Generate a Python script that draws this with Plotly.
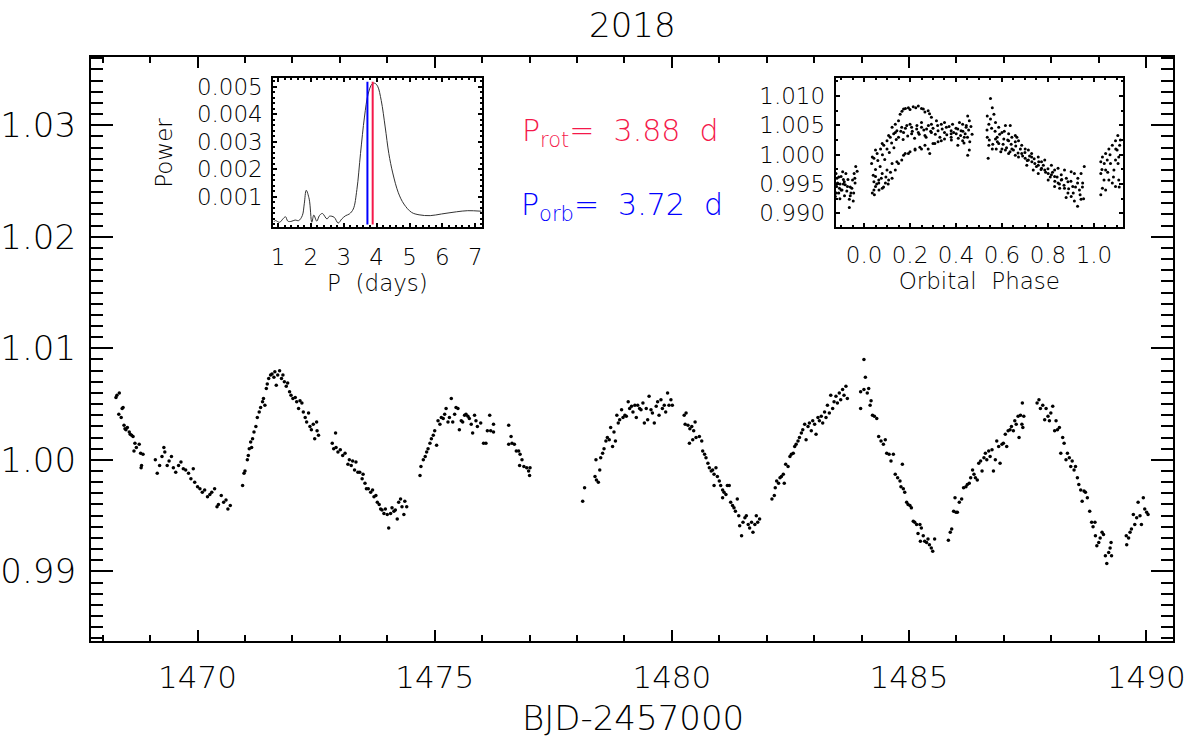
#!/usr/bin/env python3

import plotly.graph_objects as go

W, H = 1200, 737

# TESS light curve, 2018 (BJD-2457000, normalised flux)
t_2018 = [
    1468.28, 1468.30, 1468.35, 1468.34, 1468.41, 1468.43, 1468.39, 1468.45, 1468.47, 1468.49,
    1468.52, 1468.56, 1468.58, 1468.61, 1468.64, 1468.68, 1468.71, 1468.66, 1468.77, 1468.80,
    1468.85, 1468.82, 1468.81,
    1469.11, 1469.15, 1469.20, 1469.25, 1469.29, 1469.31, 1469.36, 1469.40, 1469.45, 1469.49,
    1469.54, 1469.60, 1469.65, 1469.70, 1469.75, 1469.81, 1469.86, 1469.91, 1469.94, 1470.00,
    1470.05, 1470.10, 1470.15, 1470.21, 1470.26, 1470.30, 1470.36, 1470.41, 1470.44, 1470.50,
    1470.55, 1470.60, 1470.64, 1470.69,
    1470.95, 1470.98, 1471.00, 1471.05, 1471.07, 1471.09, 1471.12, 1471.14, 1471.16, 1471.19,
    1471.23, 1471.26, 1471.30, 1471.33, 1471.37, 1471.39, 1471.42, 1471.45, 1471.47, 1471.50,
    1471.54, 1471.57, 1471.61, 1471.63, 1471.66, 1471.69, 1471.73, 1471.77, 1471.80, 1471.83,
    1471.87, 1471.90, 1471.94, 1471.97, 1472.01, 1472.06, 1472.09, 1472.13, 1472.16, 1472.20,
    1472.23, 1472.27, 1472.30, 1472.34, 1472.37, 1472.40, 1472.44, 1472.47, 1472.51, 1472.52,
    1472.55,
    1472.84, 1472.87, 1472.91, 1472.92, 1472.96, 1473.01, 1473.06, 1473.11, 1473.17, 1473.20,
    1473.24, 1473.27, 1473.31, 1473.34, 1473.38, 1473.42, 1473.47, 1473.49, 1473.53, 1473.56,
    1473.60, 1473.65, 1473.69, 1473.72, 1473.76, 1473.79, 1473.83, 1473.86, 1473.89, 1473.93,
    1473.96, 1474.00, 1474.03, 1474.07, 1474.10, 1474.14, 1474.17, 1474.21, 1474.24, 1474.28,
    1474.31, 1474.35, 1474.37, 1474.41,
    1474.69, 1474.71, 1474.76, 1474.80, 1474.83, 1474.86, 1474.90, 1474.93, 1474.97, 1475.00,
    1475.04, 1475.07, 1475.11, 1475.14, 1475.18, 1475.21, 1475.24, 1475.28, 1475.31, 1475.35,
    1475.38, 1475.42, 1475.45, 1475.49, 1475.52, 1475.56, 1475.59, 1475.63, 1475.66, 1475.70,
    1475.73, 1475.77, 1475.80, 1475.84, 1475.87, 1475.90, 1475.97, 1476.03, 1476.08, 1476.11,
    1476.16, 1476.18, 1476.24, 1476.24,
    1476.56, 1476.61, 1476.63, 1476.56, 1476.68, 1476.72, 1476.77, 1476.80, 1476.79, 1476.84,
    1476.88, 1476.94, 1476.98, 1477.00, 1477.01,
    1478.12, 1478.16, 1478.38, 1478.41, 1478.45, 1478.40, 1478.48, 1478.50, 1478.54, 1478.57,
    1478.61, 1478.64, 1478.68, 1478.71, 1478.75, 1478.78, 1478.81, 1478.84, 1478.87, 1478.90,
    1478.94, 1478.97, 1479.01, 1479.04, 1479.08, 1479.11, 1479.15, 1479.18, 1479.22, 1479.25,
    1479.28, 1479.32, 1479.35, 1479.39, 1479.42, 1479.46, 1479.49, 1479.52, 1479.56, 1479.59,
    1479.63, 1479.67, 1479.70, 1479.73, 1479.77, 1479.80, 1479.84, 1479.87, 1479.91, 1479.94,
    1479.98, 1480.01,
    1480.26, 1480.30, 1480.28, 1480.34, 1480.38, 1480.42, 1480.46, 1480.49, 1480.37, 1480.44,
    1480.51, 1480.58, 1480.63, 1480.65, 1480.69, 1480.72, 1480.76, 1480.79, 1480.83, 1480.86,
    1480.89, 1480.93, 1480.96, 1480.89, 1481.00, 1481.03, 1481.07, 1481.10, 1481.14, 1481.17,
    1481.07, 1481.21, 1481.24, 1481.28, 1481.31, 1481.34, 1481.38, 1481.41, 1481.43, 1481.47,
    1481.50, 1481.54, 1481.57, 1481.61, 1481.64, 1481.68, 1481.71, 1481.75, 1481.78, 1481.81,
    1481.85,
    1482.11, 1482.16, 1482.18, 1482.21, 1482.25, 1482.28, 1482.31, 1482.35, 1482.37, 1482.40,
    1482.45, 1482.49, 1482.52, 1482.56, 1482.59, 1482.62, 1482.66, 1482.69, 1482.73, 1482.76,
    1482.80, 1482.83, 1482.87, 1482.90, 1482.94, 1482.97, 1483.01, 1483.04, 1483.08, 1483.11,
    1483.15, 1483.18, 1483.22, 1483.25, 1483.28, 1483.32, 1483.35, 1483.39, 1483.42, 1483.46,
    1483.49, 1483.53, 1483.56, 1483.60, 1483.63, 1483.67, 1483.70,
    1483.98, 1483.98, 1484.05, 1484.08, 1484.05, 1484.12, 1484.15, 1484.18, 1484.20, 1484.23,
    1484.27, 1484.32, 1484.36, 1484.41, 1484.46, 1484.50, 1484.53, 1484.58, 1484.62, 1484.67,
    1484.71, 1484.76, 1484.81, 1484.86, 1484.83, 1484.88, 1484.91, 1484.95, 1484.98, 1485.02,
    1485.05, 1485.09, 1485.12, 1485.16, 1485.19, 1485.23, 1485.26, 1485.30, 1485.33, 1485.37,
    1485.40, 1485.43, 1485.47, 1485.50, 1485.54, 1485.24,
    1485.83, 1485.87, 1485.90, 1485.94, 1485.99, 1485.97, 1486.02, 1486.06, 1486.11, 1486.15,
    1486.20, 1486.23, 1486.27, 1486.30, 1486.34, 1486.37, 1486.40, 1486.44, 1486.47, 1486.51,
    1486.54, 1486.58, 1486.61, 1486.64, 1486.68, 1486.71, 1486.75, 1486.78, 1486.82, 1486.85,
    1486.89, 1486.92, 1486.96, 1486.99, 1487.03, 1487.06, 1487.09, 1487.13, 1487.16, 1487.20,
    1487.23, 1487.26, 1487.30, 1487.32, 1487.35, 1487.38, 1487.40, 1487.42, 1487.39,
    1487.70, 1487.74, 1487.77, 1487.82, 1487.86, 1487.89, 1487.93, 1487.96, 1487.99, 1488.03,
    1488.07, 1488.10, 1488.13, 1488.17, 1488.20, 1488.24, 1488.27, 1488.31, 1488.34, 1488.38,
    1488.41, 1488.44, 1488.48, 1488.51, 1488.55, 1488.58, 1488.62, 1488.65, 1488.69, 1488.72,
    1488.76, 1488.81, 1488.85, 1488.88, 1488.92, 1488.93, 1488.96, 1489.00, 1489.03, 1489.07,
    1489.10, 1489.14, 1489.17, 1489.21, 1489.24, 1489.27, 1489.26,
    1489.59, 1489.58, 1489.63, 1489.66, 1489.69, 1489.73, 1489.76, 1489.80, 1489.83, 1489.87,
    1489.90, 1489.94, 1489.97, 1490.01, 1490.04,
]
flux_2018 = [
    1.0056, 1.0058, 1.0060, 1.0041, 1.0046, 1.0047, 1.0038, 1.0031, 1.0028, 1.0027,
    1.0029, 1.0025, 1.0023, 1.0022, 1.0021, 1.0015, 1.0011, 1.0008, 1.0014, 1.0006,
    1.0005, 0.9995, 0.9993,
    1.0000, 0.9988, 0.9995, 1.0003, 1.0011, 1.0007, 0.9995, 0.9999, 1.0003, 0.9993,
    0.9989, 0.9995, 0.9998, 0.9992, 0.9991, 0.9988, 0.9983, 0.9992, 0.9980, 0.9976,
    0.9974, 0.9971, 0.9973, 0.9967, 0.9969, 0.9971, 0.9974, 0.9958, 0.9960, 0.9968,
    0.9962, 0.9964, 0.9956, 0.9959,
    0.9977, 0.9988, 0.9990, 1.0000, 1.0004, 1.0010, 1.0016, 1.0011, 1.0019, 1.0025,
    1.0030, 1.0038, 1.0043, 1.0047, 1.0052, 1.0055, 1.0049, 1.0064, 1.0068, 1.0073,
    1.0076, 1.0077, 1.0074, 1.0079, 1.0067, 1.0076, 1.0080, 1.0073, 1.0076, 1.0070,
    1.0066, 1.0069, 1.0061, 1.0058, 1.0055, 1.0056, 1.0052, 1.0046, 1.0053, 1.0051,
    1.0043, 1.0038, 1.0034, 1.0042, 1.0030, 1.0027, 1.0032, 1.0019, 1.0034, 1.0026,
    1.0022,
    1.0015, 1.0010, 1.0024, 1.0011, 1.0007, 1.0009, 1.0004, 1.0006, 0.9996, 1.0000,
    0.9995, 0.9999, 0.9991, 0.9998, 0.9989, 0.9989, 0.9983, 0.9987, 0.9979, 0.9974,
    0.9974, 0.9971, 0.9973, 0.9967, 0.9968, 0.9962, 0.9960, 0.9956, 0.9955, 0.9952,
    0.9956, 0.9951, 0.9939, 0.9952, 0.9957, 0.9954, 0.9955, 0.9947, 0.9962, 0.9965,
    0.9958, 0.9951, 0.9963, 0.9958,
    0.9986, 0.9994, 1.0000, 1.0003, 1.0007, 1.0010, 1.0015, 1.0019, 1.0022, 1.0026,
    1.0013, 1.0035, 1.0032, 1.0038, 1.0037, 1.0041, 1.0046, 1.0034, 1.0038, 1.0055,
    1.0034, 1.0041, 1.0047, 1.0046, 1.0027, 1.0035, 1.0034, 1.0040, 1.0041, 1.0039,
    1.0037, 1.0032, 1.0024, 1.0040, 1.0035, 1.0030, 1.0033, 1.0015, 1.0015, 1.0026,
    1.0040, 1.0026, 1.0032, 1.0025,
    1.0031, 1.0021, 1.0015, 1.0014, 1.0014, 1.0008, 1.0008, 1.0005, 0.9995, 1.0000,
    0.9994, 0.9993, 0.9990, 0.9986, 0.9993,
    0.9963, 0.9975, 0.9985, 0.9982, 0.9980, 1.0000, 0.9991, 1.0002, 1.0006, 1.0010,
    1.0017, 1.0020, 1.0018, 1.0029, 1.0012, 1.0025, 1.0017, 1.0040, 1.0033, 1.0036,
    1.0045, 1.0038, 1.0040, 1.0039, 1.0052, 1.0046, 1.0048, 1.0043, 1.0049, 1.0038,
    1.0049, 1.0046, 1.0045, 1.0051, 1.0033, 1.0046, 1.0036, 1.0057, 1.0045, 1.0042,
    1.0033, 1.0048, 1.0052, 1.0040, 1.0054, 1.0046, 1.0049, 1.0043, 1.0060, 1.0049,
    1.0054, 1.0049,
    1.0040, 1.0042, 1.0032, 1.0031, 1.0028, 1.0030, 1.0026, 1.0034, 1.0015, 1.0018,
    1.0020, 1.0021, 1.0017, 1.0008, 1.0005, 1.0002, 0.9997, 0.9993, 0.9990, 0.9991,
    0.9987, 0.9993, 0.9985, 0.9977, 0.9981, 0.9977, 0.9973, 0.9971, 0.9969, 0.9977,
    0.9966, 0.9977, 0.9962, 0.9959, 0.9957, 0.9954, 0.9965, 0.9950, 0.9941, 0.9932,
    0.9944, 0.9948, 0.9950, 0.9942, 0.9939, 0.9944, 0.9935, 0.9942, 0.9950, 0.9944,
    0.9947,
    0.9965, 0.9968, 0.9975, 0.9981, 0.9979, 0.9984, 0.9985, 0.9987, 0.9979, 0.9996,
    0.9994, 1.0003, 1.0005, 1.0006, 1.0012, 1.0014, 1.0017, 1.0020, 1.0024, 1.0027,
    1.0032, 1.0018, 1.0030, 1.0033, 1.0026, 1.0035, 1.0032, 1.0023, 1.0038, 1.0035,
    1.0039, 1.0033, 1.0043, 1.0038, 1.0049, 1.0042, 1.0058, 1.0046, 1.0052, 1.0057,
    1.0051, 1.0060, 1.0054, 1.0063, 1.0058, 1.0066, 1.0055,
    1.0061, 1.0046, 1.0090, 1.0074, 1.0063, 1.0060, 1.0064, 1.0049, 1.0053, 1.0040,
    1.0039, 1.0037, 1.0021, 1.0017, 1.0014, 1.0018, 1.0006, 1.0005, 0.9999, 1.0005,
    0.9987, 0.9984, 0.9981, 0.9996, 0.9976, 0.9974, 0.9971, 0.9962, 0.9960, 0.9959,
    0.9957, 0.9945, 0.9944, 0.9942, 0.9934, 0.9942, 0.9939, 0.9932, 0.9927, 0.9926,
    0.9929, 0.9924, 0.9921, 0.9918, 0.9929, 0.9927,
    0.9928, 0.9935, 0.9938, 0.9954, 0.9953, 0.9966, 0.9953, 0.9962, 0.9965, 0.9975,
    0.9976, 0.9978, 0.9979, 0.9984, 0.9991, 0.9987, 0.9984, 0.9982, 0.9997, 0.9999,
    0.9990, 1.0002, 1.0006, 1.0000, 1.0008, 1.0003, 1.0009, 0.9990, 1.0000, 1.0017,
    1.0012, 0.9997, 1.0014, 1.0015, 1.0023, 1.0012, 1.0026, 1.0027, 1.0030, 1.0026,
    1.0035, 1.0032, 1.0039, 1.0020, 1.0040, 1.0032, 1.0029, 1.0039, 1.0051,
    1.0051, 1.0054, 1.0046, 1.0049, 1.0036, 1.0046, 1.0039, 1.0035, 1.0042, 1.0048,
    1.0026, 1.0035, 1.0027, 1.0029, 1.0006, 1.0020, 1.0015, 1.0000, 1.0006, 1.0002,
    0.9994, 0.9999, 0.9991, 0.9994, 0.9984, 0.9978, 0.9973, 0.9963, 0.9972, 0.9971,
    0.9966, 0.9954, 0.9944, 0.9940, 0.9944, 0.9932, 0.9923, 0.9926, 0.9930, 0.9935,
    0.9933, 0.9914, 0.9907, 0.9917, 0.9921, 0.9914, 0.9926,
    0.9924, 0.9932, 0.9930, 0.9935, 0.9938, 0.9951, 0.9942, 0.9948, 0.9962, 0.9950,
    0.9942, 0.9966, 0.9956, 0.9953, 0.9951,
]

# Lomb-Scargle periodogram (inset, left)
period_days = [
    0.88, 0.92, 1.05, 1.15, 1.23, 1.30, 1.40, 1.52, 1.63, 1.74, 1.80, 1.86, 1.95, 2.03,
    2.09, 2.18, 2.26, 2.35, 2.49, 2.57, 2.71, 2.83, 2.94, 3.06, 3.17, 3.29, 3.40, 3.51,
    3.63, 3.74, 3.86, 3.94, 4.03, 4.14, 4.26, 4.37, 4.49, 4.66, 4.83, 5.06, 5.29, 5.63,
    5.97, 6.43, 6.77, 7.19,
]
power = [
    0.00010, 0.00014, 0.00008, 0.00020, 0.00028, 0.00012, 0.00011, 0.00016, 0.00014, 0.00032,
    0.00075, 0.00124, 0.00092, 0.00008, 0.00034, 0.00012, 0.00032, 0.00040, 0.00020, 0.00030,
    0.00026, 0.00005, 0.00020, 0.00032, 0.00038, 0.00056, 0.00127, 0.00258, 0.00390, 0.00473,
    0.00510, 0.00513, 0.00502, 0.00450, 0.00354, 0.00258, 0.00187, 0.00115, 0.00074, 0.00044,
    0.00035, 0.00032, 0.00038, 0.00046, 0.00050, 0.00048,
]
p_rot = 3.88
p_orb = 3.72

# light curve folded on P_orb (inset, right)
phase = [
    -0.129, -0.122, -0.115, -0.107, -0.100, -0.093, -0.086, -0.079, -0.072, -0.064,
    -0.057, -0.050, -0.043, -0.036, -0.047, -0.125, -0.110, -0.096, -0.064, -0.119,
    -0.082, -0.053, -0.039, -0.118, -0.104, -0.090, -0.075, -0.060,
    -0.120, -0.110, -0.100, -0.090, -0.085, -0.070, -0.060, -0.045, -0.040, -0.030,
    -0.120, -0.105,
    0.036, 0.043, 0.050, 0.064, 0.079, 0.093, 0.107, 0.122, 0.136, 0.150,
    0.164, 0.179, 0.200, 0.222, 0.243, 0.265, 0.286, 0.300, 0.322, 0.350,
    0.379, 0.408, 0.429, 0.451, 0.458,
    0.033, 0.043, 0.057, 0.072, 0.086, 0.100, 0.114, 0.129, 0.143, 0.164,
    0.186, 0.207, 0.229, 0.250, 0.272, 0.293, 0.315, 0.336, 0.358, 0.379,
    0.401, 0.422, 0.444, 0.458, 0.451, 0.436,
    0.050, 0.079, 0.107, 0.136, 0.172, 0.207, 0.236, 0.265, 0.293, 0.322,
    0.350, 0.379, 0.408, 0.429,
    0.157, 0.172, 0.193, 0.214, 0.236, 0.258, 0.279, 0.293, 0.150, 0.136, 0.122,
    0.165, 0.180, 0.200, 0.225, 0.250, 0.265, 0.285,
    0.043, 0.064, 0.050, 0.079, 0.100, 0.122, 0.143, 0.172, 0.193, 0.222,
    0.250, 0.279, 0.308, 0.336, 0.036,
    0.040, 0.050, 0.060, 0.070, 0.080, 0.090, 0.100, 0.110, 0.120, 0.130,
    0.140, 0.045, 0.055, 0.065, 0.075, 0.085, 0.095, 0.105, 0.115,
    0.150, 0.160, 0.170, 0.180, 0.190, 0.200, 0.210, 0.220, 0.230, 0.240,
    0.250, 0.260, 0.270, 0.280, 0.290,
    0.300, 0.310, 0.320, 0.330, 0.340, 0.350, 0.360, 0.370, 0.380, 0.385,
    0.390, 0.400, 0.410, 0.415, 0.420, 0.430, 0.435, 0.440, 0.445, 0.450,
    0.455, 0.460, 0.465, 0.470,
    0.550, 0.558, 0.536, 0.543, 0.550, 0.565, 0.572, 0.536, 0.543, 0.540,
    0.558, 0.572, 0.586, 0.600, 0.615, 0.629, 0.643, 0.658, 0.672, 0.586,
    0.600, 0.615, 0.629, 0.643, 0.658, 0.672, 0.686, 0.701, 0.715, 0.729,
    0.743, 0.758, 0.772, 0.786, 0.801, 0.815, 0.829, 0.844, 0.858, 0.872,
    0.887, 0.901, 0.915, 0.929, 0.944, 0.951, 0.958, 0.915, 0.901, 0.872,
    0.844, 0.815, 0.786, 0.758, 0.729, 0.701, 0.686, 0.658, 0.629, 0.608,
    0.579, 0.636, 0.665, 0.715, 0.772, 0.829, 0.858, 0.887, 0.929, 0.937,
    0.944, 0.879, 0.908, 0.851, 0.829, 0.801, 0.758, 0.736, 0.708,
    0.535, 0.545, 0.555, 0.560, 0.570, 0.575, 0.580, 0.590, 0.595, 0.605,
    0.610, 0.620, 0.625, 0.635, 0.640, 0.650, 0.660, 0.670, 0.680, 0.690,
    0.700, 0.710, 0.720, 0.730, 0.740, 0.750, 0.760, 0.770, 0.780, 0.790,
    0.800, 0.810, 0.820, 0.830, 0.840, 0.850, 0.860, 0.870, 0.880, 0.890,
    0.900, 0.910, 0.920, 0.930, 0.940, 0.950, 0.955,
    1.030, 1.037, 1.051, 1.065, 1.080, 1.094, 1.108, 1.030, 1.037, 1.051,
    1.065, 1.080, 1.094, 1.104, 1.030, 1.051, 1.072, 1.094, 1.108, 1.044,
    1.087, 1.058, 1.101, 1.112,
    1.035, 1.045, 1.060, 1.070, 1.085, 1.095, 1.105, 1.115, 1.110,
]
phase_flux = [
    0.9957, 0.9968, 0.9952, 0.9943, 0.9963, 0.9971, 0.9954, 0.9968, 0.9946, 0.9924,
    0.9935, 0.9957, 0.9968, 0.9980, 0.9921, 0.9929, 0.9935, 0.9940, 0.9910, 0.9946,
    0.9949, 0.9943, 0.9952, 0.9960, 0.9950, 0.9958, 0.9938, 0.9930,
    0.9950, 0.9962, 0.9940, 0.9950, 0.9930, 0.9958, 0.9945, 0.9935, 0.9960, 0.9972,
    0.9935, 0.9925,
    0.9935, 0.9940, 0.9946, 0.9952, 0.9943, 0.9952, 0.9957, 0.9960, 0.9974, 0.9985,
    0.9991, 1.0002, 1.0005, 1.0010, 1.0013, 1.0016, 1.0002, 1.0019, 1.0022, 1.0027,
    1.0030, 1.0016, 1.0024, 0.9999, 1.0008,
    0.9985, 0.9994, 1.0002, 1.0010, 1.0016, 1.0024, 1.0030, 1.0036, 1.0041, 1.0047,
    1.0050, 1.0047, 1.0044, 1.0047, 1.0044, 1.0052, 1.0058, 1.0052, 1.0047, 1.0041,
    1.0036, 1.0041, 1.0047, 1.0058, 1.0066, 1.0030,
    1.0008, 1.0019, 1.0033, 1.0038, 1.0038, 1.0036, 1.0038, 1.0033, 1.0038, 1.0041,
    1.0038, 1.0036, 1.0044, 1.0052,
    1.0069, 1.0078, 1.0080, 1.0082, 1.0083, 1.0078, 1.0075, 1.0064, 1.0058, 1.0052, 1.0047,
    1.0074, 1.0079, 1.0077, 1.0080, 1.0079, 1.0073, 1.0070,
    0.9954, 0.9957, 0.9963, 0.9968, 0.9974, 0.9985, 0.9988, 0.9999, 1.0002, 1.0008,
    1.0010, 1.0010, 1.0019, 1.0024, 0.9996,
    0.9965, 0.9975, 0.9990, 0.9980, 1.0000, 0.9992, 1.0010, 1.0004, 1.0020, 1.0012,
    1.0026, 0.9932, 0.9950, 0.9940, 0.9960, 0.9945, 0.9962, 0.9950, 0.9970,
    1.0030, 1.0040, 1.0026, 1.0045, 1.0032, 1.0052, 1.0040, 1.0028, 1.0050, 1.0035,
    1.0055, 1.0042, 1.0030, 1.0050, 1.0040,
    1.0045, 1.0035, 1.0050, 1.0030, 1.0044, 1.0055, 1.0034, 1.0048, 1.0025, 1.0052,
    1.0038, 1.0045, 1.0028, 1.0055, 1.0033, 1.0040, 1.0020, 1.0036, 1.0050, 1.0030,
    1.0042, 1.0022, 1.0048, 1.0035,
    1.0096, 1.0080, 1.0066, 1.0052, 1.0061, 1.0069, 1.0055, 1.0030, 1.0016, 0.9994,
    1.0010, 1.0027, 1.0047, 1.0038, 1.0050, 1.0036, 1.0030, 1.0033, 1.0024, 1.0019,
    1.0010, 1.0008, 1.0002, 1.0010, 0.9999, 0.9996, 1.0002, 0.9994, 0.9991, 0.9996,
    0.9985, 0.9982, 0.9977, 0.9974, 0.9968, 0.9966, 0.9963, 0.9952, 0.9957, 0.9943,
    0.9935, 0.9929, 0.9921, 0.9912, 0.9924, 0.9952, 0.9980, 0.9968, 0.9971, 0.9974,
    0.9977, 0.9982, 0.9991, 0.9996, 1.0002, 1.0010, 1.0016, 1.0022, 1.0024, 1.0027,
    1.0030, 1.0050, 1.0030, 1.0008, 0.9988, 0.9974, 0.9966, 0.9954, 0.9952, 0.9940,
    0.9968, 0.9927, 0.9946, 0.9943, 0.9946, 0.9957, 0.9968, 0.9974, 0.9982,
    1.0042, 1.0025, 1.0045, 1.0018, 1.0040, 1.0010, 1.0022, 1.0035, 1.0005, 1.0018,
    1.0040, 1.0012, 1.0025, 1.0005, 1.0018, 1.0008, 1.0015, 1.0003, 1.0010, 0.9998,
    1.0004, 0.9990, 0.9998, 0.9988, 0.9993, 0.9980, 0.9988, 0.9975, 0.9982, 0.9970,
    0.9976, 0.9962, 0.9970, 0.9955, 0.9962, 0.9950, 0.9958, 0.9948, 0.9960, 0.9942,
    0.9955, 0.9935, 0.9945, 0.9960, 0.9932, 0.9945, 0.9925,
    0.9932, 0.9943, 0.9940, 0.9957, 0.9952, 0.9946, 0.9957, 0.9988, 0.9996, 1.0002,
    1.0010, 1.0016, 1.0024, 1.0033, 0.9968, 0.9974, 0.9985, 0.9991, 0.9996, 0.9957,
    0.9974, 0.9991, 1.0008, 1.0016,
    0.9975, 0.9985, 0.9970, 1.0000, 0.9962, 1.0010, 0.9985, 1.0025, 0.9945,
]

FONT = "DejaVu Sans"
THIN = 200


def px_x(p):
    return p / W


def px_y(p):
    return 1 - p / H


def txt(size, color="black"):
    return dict(family=FONT, size=size, color=color, weight=THIN)


def frame(**kw):
    # IDL-style box: line on all four sides, ticks pointing inwards
    d = dict(showline=True, linecolor="black", linewidth=2, mirror="allticks",
             ticks="inside", tickcolor="black", tickwidth=2, showgrid=False,
             zeroline=False, tickfont=txt(34))
    d.update(kw)
    return d


fig = go.Figure()

fig.add_trace(go.Scatter(x=t_2018, y=flux_2018, mode="markers",
                         marker=dict(color="black", size=3.5),
                         xaxis="x", yaxis="y", showlegend=False))
fig.add_trace(go.Scatter(x=period_days, y=power, mode="lines",
                         line=dict(color="#333333", width=1, shape="spline"),
                         xaxis="x2", yaxis="y2", showlegend=False))
fig.add_trace(go.Scatter(x=phase, y=phase_flux, mode="markers",
                         marker=dict(color="black", size=3),
                         xaxis="x3", yaxis="y3", showlegend=False))

peak = max(power) * 1.01
fig.add_shape(type="line", xref="x2", yref="y2", x0=p_orb, x1=p_orb, y0=0, y1=peak,
              line=dict(color="#0000ff", width=2))
fig.add_shape(type="line", xref="x2", yref="y2", x0=p_rot, x1=p_rot, y0=0, y1=peak,
              line=dict(color="#f5184a", width=2))

fig.update_layout(
    width=W, height=H,
    margin=dict(l=0, r=0, t=0, b=0),
    paper_bgcolor="white", plot_bgcolor="white",
    font=txt(20),
    # keep the toolbar out of the picture
    modebar=dict(bgcolor="rgba(0,0,0,0)", color="rgba(0,0,0,0)",
                 activecolor="rgba(0,0,0,0)"),
    xaxis=frame(domain=[px_x(88), px_x(1185)], range=[1467.75, 1490.57],
                tick0=1470, dtick=5, ticklen=11, ticklabelstandoff=8,
                tickfont=txt(31),
                minor=dict(dtick=1, ticklen=6, ticks="inside", tickcolor="black", tickwidth=2),
                anchor="y"),
    yaxis=frame(domain=[px_y(640), px_y(52)], range=[0.98379, 1.03615],
                tick0=0.99, dtick=0.01, tickformat=".2f", ticklen=22, ticklabelstandoff=6,
                minor=dict(dtick=0.001, ticklen=12, ticks="inside", tickcolor="black", tickwidth=2),
                anchor="x"),
    xaxis2=frame(domain=[px_x(273), px_x(484)], range=[0.86, 7.19],
                 tick0=1, dtick=1, ticklen=4, ticklabelstandoff=8, tickfont=txt(23),
                 minor=dict(dtick=0.2, ticklen=2, ticks="inside", tickcolor="black"),
                 title=dict(text="P  (days)", font=txt(23), standoff=5),
                 anchor="y2"),
    yaxis2=frame(domain=[px_y(224), px_y(74)], range=[-0.00011, 0.0053],
                 tickvals=[0.001, 0.002, 0.003, 0.004, 0.005], tickformat=".3f",
                 ticklen=4, ticklabelstandoff=4, tickfont=txt(23),
                 minor=dict(dtick=0.0002, ticklen=2, ticks="inside", tickcolor="black"),
                 title=dict(text="Power", font=txt(23), standoff=18),
                 anchor="x2"),
    xaxis3=frame(domain=[px_x(843), px_x(1134)], range=[-0.123, 1.126],
                 tick0=0, dtick=0.2, tickformat=".1f", ticklen=4, ticklabelstandoff=6,
                 tickfont=txt(23),
                 minor=dict(dtick=0.05, ticklen=2, ticks="inside", tickcolor="black"),
                 title=dict(text="Orbital  Phase", font=txt(23), standoff=4),
                 anchor="y3"),
    yaxis3=frame(domain=[px_y(224), px_y(74)], range=[0.9876, 1.0130],
                 tick0=0.99, dtick=0.005, tickformat=".3f", ticklen=4, ticklabelstandoff=4,
                 tickfont=txt(23),
                 minor=dict(dtick=0.0025, ticklen=2, ticks="inside", tickcolor="black"),
                 anchor="x3"),
)

fig.add_annotation(text="2018", x=px_x(637), y=px_y(20), xref="paper", yref="paper",
                   xanchor="center", yanchor="middle", showarrow=False, font=txt(34))
fig.add_annotation(text="BJD-2457000", x=px_x(637), y=px_y(718), xref="paper", yref="paper",
                   xanchor="center", yanchor="middle", showarrow=False, font=txt(34))
fig.add_annotation(text="P<sub>rot</sub>=  3.88  d", x=px_x(624), y=px_y(128),
                   xref="paper", yref="paper", xanchor="center", yanchor="middle",
                   showarrow=False, font=txt(30, "#f5184a"))
fig.add_annotation(text="P<sub>orb</sub>=  3.72  d", x=px_x(626), y=px_y(203),
                   xref="paper", yref="paper", xanchor="center", yanchor="middle",
                   showarrow=False, font=txt(30, "#0000ff"))

# the page is photographed from its top-left corner, so drop the default body margin
fig.write_html("out.html", config={"displaylogo": False},
               post_script="document.body.style.margin='0';")
